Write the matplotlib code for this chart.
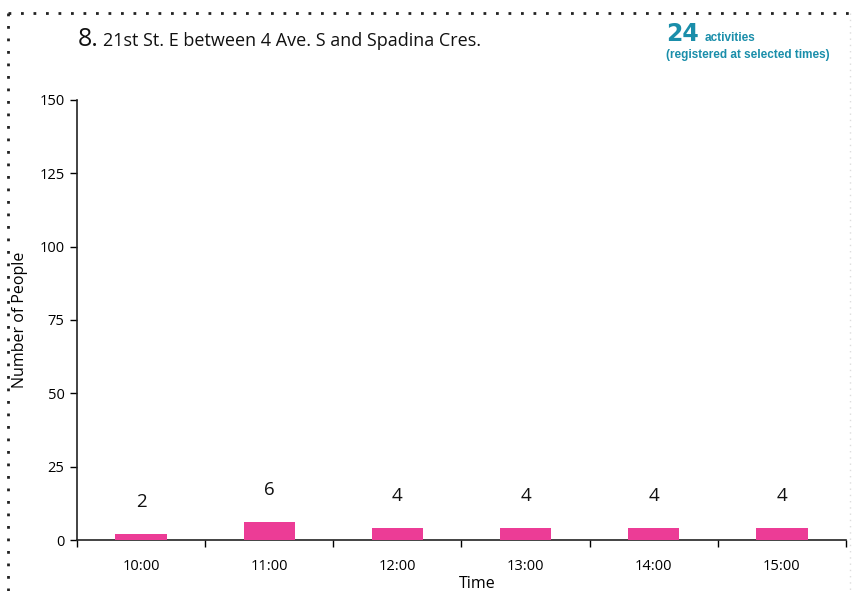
import matplotlib
matplotlib.use("Agg")
import matplotlib.pyplot as plt
from matplotlib.lines import Line2D

times = ["10:00", "11:00", "12:00", "13:00", "14:00", "15:00"]
people = [2, 6, 4, 4, 4, 4]
yticks = [0, 25, 50, 75, 100, 125, 150]
total_activities = 24

plt.rcParams['font.family'] = ['Open Sans', 'DejaVu Sans']

W, H = 856, 591
fig = plt.figure(figsize=(W / 100, H / 100), dpi=100)
ax = fig.add_axes([77 / W, 1 - 540 / H, (846 - 77) / W, 440 / H])

x = list(range(len(times)))
ax.bar(x, people, width=0.4, color="#EC3C96", zorder=3)
for xi, v in zip(x, people):
    ax.annotate(str(v), (xi, v), xytext=(0, 23), textcoords="offset points",
                ha="center", va="center", fontsize=13.5, color="#111111")

ax.set_xlim(-0.5, len(times) - 0.5)
ax.set_ylim(0, 150)
ax.set_yticks(yticks)
ax.set_yticklabels([str(t) for t in yticks], fontsize=10.5)
ax.set_xticks(x)
ax.set_xticklabels(times, fontsize=10.5)
ax.set_xticks([i - 0.5 for i in range(len(times) + 1)], minor=True)
ax.tick_params(axis="x", which="major", length=0, pad=14)
ax.tick_params(axis="x", which="minor", length=5, direction="out", width=1)
ax.tick_params(axis="y", length=5, width=1, pad=4)
for s in ["top", "right"]:
    ax.spines[s].set_visible(False)
for s in ["left", "bottom"]:
    ax.spines[s].set_linewidth(1.2)
    ax.spines[s].set_color("#222222")

ax.set_ylabel("Number of People", fontsize=11.5, va="center")
ax.yaxis.set_label_coords(-57 / (846 - 77), 0.5)
ax.set_xlabel("Time", fontsize=11.5)
ax.xaxis.set_label_coords(0.52, -36 / 440)

# Title
fig.text(78 / W, 1 - 40 / H, "8.", fontsize=18, va="center", ha="left", color="#111111")
fig.text(103 / W, 1 - 41 / H, "21st St. E between 4 Ave. S and Spadina Cres.", fontsize=13,
         va="center", ha="left", color="#111111")

teal = "#1A8EAA"
fig.text(666 / W, 1 - 34 / H, str(total_activities), fontsize=17, fontweight="bold",
         color=teal, va="center", ha="left", family="DejaVu Sans")
fig.text(705 / W, 1 - 38 / H, "activities", fontsize=8.5, fontweight="bold",
         color=teal, va="center", ha="left", family="Liberation Sans")
fig.text(666 / W, 1 - 55 / H, "(registered at selected times)", fontsize=8.5, fontweight="bold",
         color=teal, va="center", ha="left", family="Liberation Sans")

# dotted border
fig.add_artist(Line2D([8 / W, 850 / W], [1 - 13 / H, 1 - 13 / H], transform=fig.transFigure,
                      color="#222222", linestyle=(0, (1, 3.5)), linewidth=2))
fig.add_artist(Line2D([8 / W, 8 / W], [1 - 13 / H, 0], transform=fig.transFigure,
                      color="#222222", linestyle=(0, (1, 3.5)), linewidth=2))
fig.add_artist(Line2D([850 / W, 850 / W], [1 - 13 / H, 0], transform=fig.transFigure,
                      color="#dddddd", linestyle=(0, (1, 3.5)), linewidth=1))

fig.savefig("out.png", dpi=100)
